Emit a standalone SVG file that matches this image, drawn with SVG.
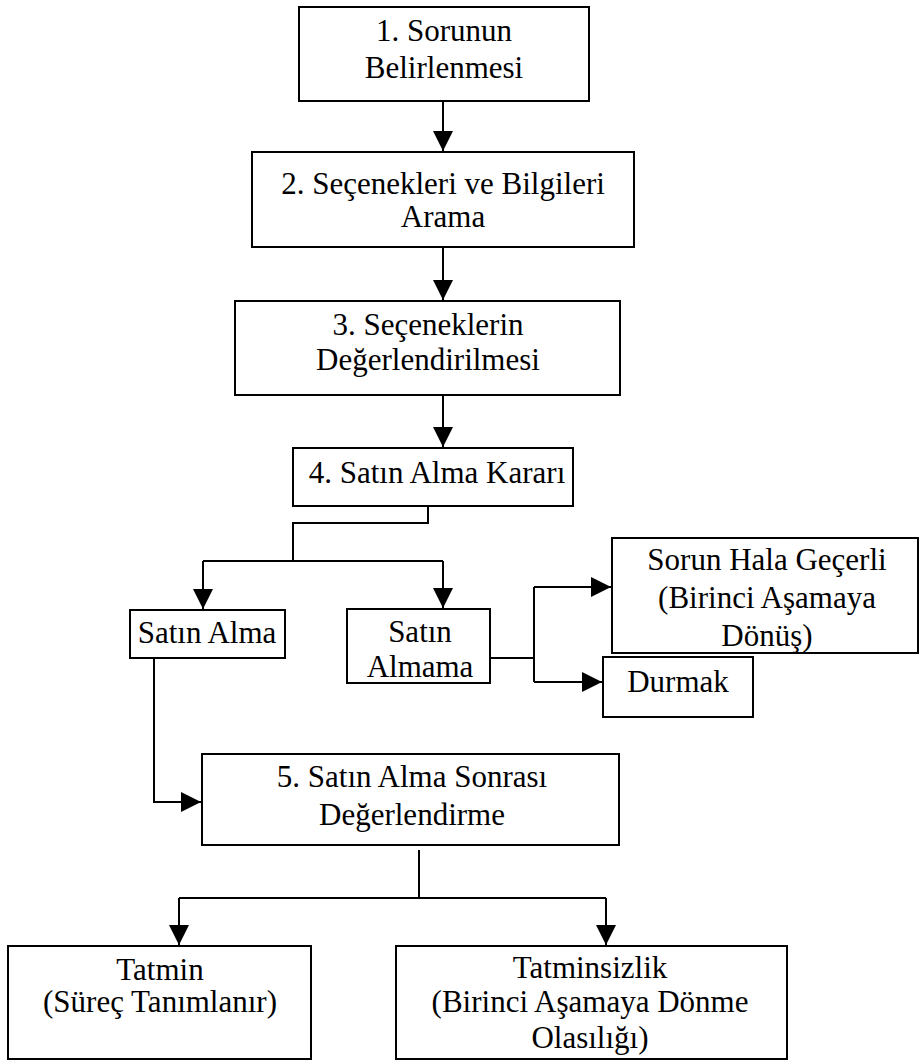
<svg xmlns="http://www.w3.org/2000/svg" width="922" height="1062" viewBox="0 0 922 1062">
<style>
.box{fill:#fff;stroke:#000;stroke-width:2}
.t{font-family:"Liberation Serif","Times New Roman",serif;font-size:31px;fill:#000;text-anchor:middle}
.c{fill:none;stroke:#000;stroke-width:2}
</style>
<defs>
<marker id="ah" markerUnits="userSpaceOnUse" markerWidth="20" markerHeight="20" refX="20" refY="10" orient="auto">
<path d="M0,0 L20,10 L0,20 z" fill="#000"/>
</marker>
</defs>
<rect width="922" height="1062" fill="#fff"/>
<g id="connectors">
<path class="c" d="M443,101 V151" marker-end="url(#ah)"/>
<path class="c" d="M443,247 V300" marker-end="url(#ah)"/>
<path class="c" d="M443,395 V447" marker-end="url(#ah)"/>
<path class="c" d="M428,506 V523 H293 V561"/>
<path class="c" d="M203,561 H443"/>
<path class="c" d="M203,561 V609" marker-end="url(#ah)"/>
<path class="c" d="M443,561 V608" marker-end="url(#ah)"/>
<path class="c" d="M490,658 H534"/>
<path class="c" d="M534,587 V682"/>
<path class="c" d="M534,587 H611" marker-end="url(#ah)"/>
<path class="c" d="M534,682 H602" marker-end="url(#ah)"/>
<path class="c" d="M154,658 V802 H201" marker-end="url(#ah)"/>
<path class="c" d="M419,850 V898"/>
<path class="c" d="M179,898 H606"/>
<path class="c" d="M179,898 V945" marker-end="url(#ah)"/>
<path class="c" d="M606,898 V945" marker-end="url(#ah)"/>
</g>
<g id="n1"><rect class="box" x="299" y="7" width="290" height="94"/><text class="t" x="444" y="41">1. Sorunun</text><text class="t" x="444" y="78">Belirlenmesi</text></g>
<g id="n2"><rect class="box" x="252" y="152" width="382" height="95"/><text class="t" x="443" y="194">2. Seçenekleri ve Bilgileri</text><text class="t" x="443" y="227">Arama</text></g>
<g id="n3"><rect class="box" x="235" y="301" width="385" height="94"/><text class="t" x="428" y="335">3. Seçeneklerin</text><text class="t" x="428" y="370">Değerlendirilmesi</text></g>
<g id="n4"><rect class="box" x="293" y="448" width="280" height="58"/><text class="t" x="437" y="483">4. Satın Alma Kararı</text></g>
<g id="n5"><rect class="box" x="130" y="610" width="155" height="48"/><text class="t" x="207" y="643">Satın Alma</text></g>
<g id="n6"><rect class="box" x="347" y="609" width="143" height="74"/><text class="t" x="420" y="642">Satın</text><text class="t" x="420" y="677">Almama</text></g>
<g id="n7"><rect class="box" x="612" y="538" width="306" height="115"/><text class="t" x="767" y="570">Sorun Hala Geçerli</text><text class="t" x="767" y="608">(Birinci Aşamaya</text><text class="t" x="767" y="646">Dönüş)</text></g>
<g id="n8"><rect class="box" x="603" y="657" width="150" height="60"/><text class="t" x="678" y="692">Durmak</text></g>
<g id="n9"><rect class="box" x="202" y="754" width="417" height="91"/><text class="t" x="412" y="787">5. Satın Alma Sonrası</text><text class="t" x="412" y="825">Değerlendirme</text></g>
<g id="n10"><rect class="box" x="8" y="946" width="303" height="113"/><text class="t" x="160" y="980">Tatmin</text><text class="t" x="160" y="1012">(Süreç Tanımlanır)</text></g>
<g id="n11"><rect class="box" x="396" y="946" width="391" height="113"/><text class="t" x="590" y="978">Tatminsizlik</text><text class="t" x="590" y="1012">(Birinci Aşamaya Dönme</text><text class="t" x="590" y="1048">Olasılığı)</text></g>
</svg>
